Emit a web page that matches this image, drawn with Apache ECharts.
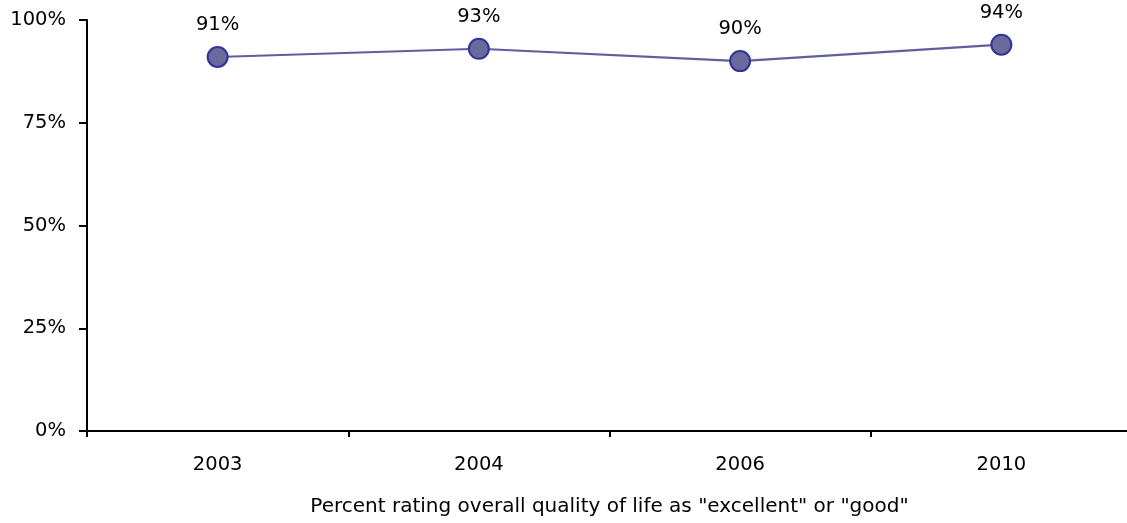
<!DOCTYPE html>
<html><head><meta charset="utf-8">
<script src="https://cdn.jsdelivr.net/npm/echarts@6/dist/echarts.min.js"></script>
<style>html,body{margin:0;padding:0;background:#fff}#c{width:1127px;height:523px}</style>
</head><body><div id="c"></div>
<script>
const categories = ['2003', '2004', '2006', '2010'];
const values = [91, 93, 90, 94];
const yTicks = [0, 25, 50, 75, 100];
const axisTitle = 'Percent rating overall quality of life as "excellent" or "good"';
const FONT = '"DejaVu Sans", sans-serif';
const chart = echarts.init(document.getElementById('c'));
chart.setOption({
  animation: false,
  grid: { left: 87, top: 20, right: -5, bottom: 92, containLabel: false, outerBoundsMode: 'none' },
  xAxis: {
    type: 'category', data: categories, boundaryGap: true,
    name: axisTitle, nameLocation: 'middle', nameGap: 66,
    nameTextStyle: { fontFamily: FONT, fontSize: 20, color: '#000' },
    axisLine: { lineStyle: { color: '#000', width: 2 } },
    axisTick: { show: true, length: 6, lineStyle: { color: '#000', width: 2 } },
    axisLabel: { fontFamily: FONT, fontSize: 19.5, color: '#000', margin: 24 },
    splitLine: { show: false }
  },
  yAxis: {
    type: 'value', min: yTicks[0], max: yTicks[yTicks.length - 1], interval: 25,
    axisLine: { show: true, lineStyle: { color: '#000', width: 2 } },
    axisTick: { show: true, length: 8, lineStyle: { color: '#000', width: 2 } },
    axisLabel: { fontFamily: FONT, fontSize: 19.5, color: '#000', margin: 21, formatter: v => v + '%' },
    splitLine: { show: false }
  },
  series: [{
    type: 'line', data: values,
    symbol: 'circle', symbolSize: 20,
    lineStyle: { color: '#5f5f9c', width: 2.2 },
    itemStyle: { color: '#6a6a9c', borderColor: '#333399', borderWidth: 2 },
    label: { show: true, position: 'top', distance: 11, fontFamily: FONT, fontSize: 19.5, color: '#000', formatter: p => p.value + '%' }
  }]
});
</script></body></html>
